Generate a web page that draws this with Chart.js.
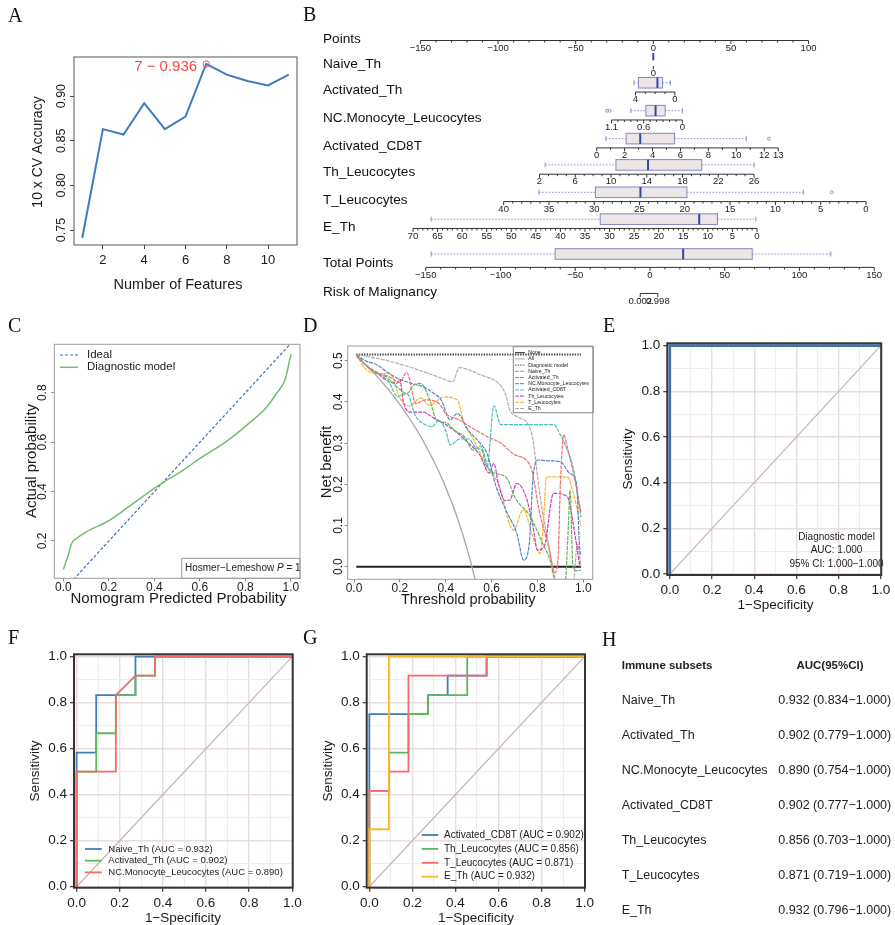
<!DOCTYPE html>
<html>
<head>
<meta charset="utf-8">
<title>Immune subsets diagnostic model</title>
<script src="https://cdn.jsdelivr.net/npm/chart.js@4.4.1/dist/chart.umd.min.js"></script>
<style>
  body { margin: 0; background: #fff; }
  #fig { position: relative; width: 895px; height: 925px; overflow: hidden; background: #fff; }
  #fig canvas { position: absolute; left: 0; top: 0; }
  .tag { position: absolute; font: 20px 'Liberation Serif', 'Times New Roman', serif; color: #111; line-height: 1; }
  .cell { position: absolute; font: 12.5px 'Liberation Sans', Arial, sans-serif; color: #222; white-space: nowrap; transform: translateY(-50%); }
  .hd { font-weight: bold; font-size: 11.5px; }
</style>
</head>
<body>
<div id="fig"></div>
<script>
const W = 895, H = 925;
const SANS = "'Liberation Sans', Arial, Helvetica, sans-serif";
const f = (s, w) => (w ? w + ' ' : '') + s + 'px ' + SANS;
const MINUS = '\u2212';

// ---- A: feature selection
const featureCounts = [1, 2, 3, 4, 5, 6, 7, 8, 9, 10, 11];
const cvAccuracy = [0.741, 0.863, 0.857, 0.892, 0.863, 0.877, 0.936, 0.924, 0.917, 0.912, 0.924];
const aTicksX = [2, 4, 6, 8, 10];
const aTicksY = [0.75, 0.80, 0.85, 0.90];
const bestCount = 7;

// ---- B: nomogram
const nomoNames = ['Points', 'Naive_Th', 'Activated_Th', 'NC.Monocyte_Leucocytes', 'Activated_CD8T',
  'Th_Leucocytes', 'T_Leucocytes', 'E_Th', 'Total Points', 'Risk of Malignancy'];
const nomoAxisVals = [[-150, 100], [0, 0], [4, 0], [1.1, 0], [0, 13], [2, 26], [40, 0], [70, 0], [-150, 150], [0.002, 0.998]];
const nomoAxisPts = [[-150, 100], [0, 0], [-11.5, 13.9], [-26.9, 18.7], [-36.5, 80.5], [-73.3, 64.9], [-96.4, 137.0], [-154.8, 66.8], [-146.6, 142.3], [-8.4, 2.9]];
const nomoTickStep = [10, 0, 1, 0.1, 1, 1, 1, 1, 10, 0];
const nomoTickLabels = [[-150, -100, -50, 0, 50, 100], [0], [4, 0], [1.1, 0.6, 0], [0, 2, 4, 6, 8, 10, 12, 13],
  [2, 6, 10, 14, 18, 22, 26], [40, 35, 30, 25, 20, 15, 10, 5, 0],
  [70, 65, 60, 55, 50, 45, 40, 35, 30, 25, 20, 15, 10, 5, 0], [-150, -100, -50, 0, 50, 100, 150], [0.002, 0.998]];
const boxLo = [null, 0, 4.15, 0.80, 0.66, 2.63, 36.1, 66.3, -146.3, null];
const boxQ1 = [null, 0, 3.70, 0.567, 2.11, 10.55, 29.87, 31.9, -63.4, null];
const boxMed = [null, 0, 1.77, 0.416, 3.12, 14.14, 24.9, 11.76, 22.2, null];
const boxQ3 = [null, 0, 1.25, 0.267, 5.58, 20.15, 19.77, 8.04, 68.4, null];
const boxHi = [null, 0, 0.46, 0, 10.71, 26, 6.92, 0.23, 121, null];
const boxOut = [[], [], [], [1.17, 1.13], [12.34], [], [3.79], [], [], []];
const nomoRowPos = [0, 0.95, 1.92, 2.96, 4, 4.98, 6, 7, 8.45, 9.42];

// ---- C: calibration
const calIdealX = [0, 1], calIdealY = [0, 1];
const calModelX = [0, 0.02, 0.037, 0.059, 0.103, 0.205, 0.307, 0.417, 0.527, 0.6, 0.717, 0.805, 0.893, 0.937, 0.974, 0.985, 1.0];
const calModelY = [0.085, 0.14, 0.191, 0.211, 0.238, 0.285, 0.352, 0.424, 0.487, 0.534, 0.603, 0.668, 0.741, 0.798, 0.852, 0.892, 0.955];
const cTicksX = [0, 0.2, 0.4, 0.6, 0.8, 1.0];
const cTicksY = [0.2, 0.4, 0.6, 0.8];

// ---- D: decision curves
const dcaNoneX = [0.01, 0.99], dcaNoneY = [0, 0];
const dcaAllX = [0.01, 0.05, 0.1, 0.15, 0.2, 0.25, 0.3, 0.35, 0.4, 0.45, 0.5, 0.55];
const dcaAllY = [0.51, 0.49, 0.462, 0.43, 0.394, 0.353, 0.307, 0.254, 0.193, 0.12, 0.03, -0.08];
const dcaModelX = [0.01, 0.99], dcaModelY = [0.515, 0.515];
const dcaNaiveX = [0.01, 0.05, 0.1, 0.15, 0.2, 0.23, 0.27, 0.31, 0.37, 0.4, 0.46, 0.5, 0.58, 0.64, 0.7, 0.77, 0.81, 0.85, 0.875, 0.89, 0.9, 0.915, 0.93, 0.96, 0.99];
const dcaNaiveY = [0.515, 0.49, 0.472, 0.462, 0.448, 0.472, 0.396, 0.405, 0.397, 0.372, 0.356, 0.342, 0.316, 0.3, 0.272, 0.243, 0.13, 0.045, -0.015, 0.02, 0.2, 0.32, 0.29, 0.22, 0.13];
const dcaActThX = [0.01, 0.05, 0.1, 0.14, 0.2, 0.23, 0.26, 0.29, 0.33, 0.36, 0.4, 0.44, 0.48, 0.52, 0.55, 0.59, 0.63, 0.67, 0.7, 0.77, 0.82, 0.855, 0.875, 0.92, 0.935, 0.942, 0.955, 0.97, 0.99];
const dcaActThY = [0.515, 0.49, 0.468, 0.461, 0.43, 0.42, 0.44, 0.445, 0.405, 0.356, 0.35, 0.33, 0.316, 0.283, 0.293, 0.235, 0.225, 0.212, 0.17, 0.121, 0.06, 0.016, -0.03, -0.04, 0.1, 0.186, 0.0, -0.01, -0.008];
const dcaNcMonoX = [0.01, 0.05, 0.1, 0.15, 0.2, 0.25, 0.3, 0.35, 0.38, 0.42, 0.45, 0.5, 0.55, 0.58, 0.62, 0.67, 0.71, 0.74, 0.765, 0.78, 0.8, 0.85, 0.9, 0.94, 0.97, 0.985, 0.99];
const dcaNcMonoY = [0.515, 0.5, 0.49, 0.47, 0.455, 0.445, 0.437, 0.42, 0.405, 0.356, 0.372, 0.33, 0.3, 0.275, 0.194, 0.129, 0.081, 0.016, 0.06, 0.21, 0.259, 0.257, 0.255, 0.227, 0.202, 0.04, 0.03];
const dcaCd8X = [0.01, 0.05, 0.1, 0.15, 0.19, 0.23, 0.27, 0.31, 0.34, 0.37, 0.4, 0.42, 0.46, 0.5, 0.53, 0.56, 0.58, 0.61, 0.64, 0.7, 0.8, 0.87, 0.9, 0.93, 0.96, 0.99];
const dcaCd8Y = [0.515, 0.49, 0.47, 0.45, 0.413, 0.42, 0.364, 0.345, 0.34, 0.356, 0.33, 0.295, 0.31, 0.31, 0.29, 0.28, 0.24, 0.39, 0.345, 0.345, 0.345, 0.345, 0.32, 0.283, 0.23, 0.12];
const dcaThLeuX = [0.01, 0.05, 0.1, 0.15, 0.186, 0.2, 0.215, 0.25, 0.3, 0.35, 0.4, 0.45, 0.5, 0.55, 0.59, 0.61, 0.63, 0.66, 0.68, 0.71, 0.75, 0.78, 0.8, 0.83, 0.87, 0.93, 0.96, 0.985];
const dcaThLeuY = [0.515, 0.49, 0.47, 0.45, 0.445, 0.455, 0.4, 0.375, 0.375, 0.36, 0.345, 0.325, 0.3, 0.27, 0.227, 0.251, 0.2, 0.16, 0.162, 0.202, 0.17, 0.1, 0.04, 0.05, 0.178, 0.17, 0.09, 0.0];
const dcaTLeuX = [0.01, 0.05, 0.1, 0.157, 0.2, 0.24, 0.29, 0.33, 0.39, 0.45, 0.48, 0.52, 0.58, 0.63, 0.695, 0.738, 0.78, 0.811, 0.825, 0.84, 0.87, 0.93, 0.96, 0.99];
const dcaTLeuY = [0.515, 0.48, 0.469, 0.469, 0.409, 0.39, 0.409, 0.392, 0.412, 0.405, 0.348, 0.31, 0.243, 0.2, 0.089, 0.138, 0.073, 0.032, 0.1, 0.218, 0.218, 0.218, 0.17, 0.097];
const dcaEThX = [0.01, 0.1, 0.2, 0.3, 0.38, 0.43, 0.46, 0.55, 0.63, 0.66, 0.68, 0.72, 0.76, 0.78, 0.8, 0.82, 0.85, 0.87, 0.9, 0.95, 0.975, 0.99];
const dcaEThY = [0.515, 0.506, 0.492, 0.474, 0.458, 0.449, 0.483, 0.466, 0.445, 0.42, 0.38, 0.362, 0.345, 0.31, 0.22, 0.14, 0.05, -0.01, -0.08, -0.08, 0.055, 0.0];
const dTicksX = [0, 0.2, 0.4, 0.6, 0.8, 1.0];
const dTicksY = [0, 0.1, 0.2, 0.3, 0.4, 0.5];

// ---- E/F/G: ROC
const rocTicks = [0, 0.1, 0.2, 0.3, 0.4, 0.5, 0.6, 0.7, 0.8, 0.9, 1.0];
const modelFpr = [0, 0, 1], modelTpr = [0, 1, 1];
const naiveFpr = [0, 0, 0.091, 0.091, 0.273, 0.273, 1], naiveTpr = [0, 0.583, 0.583, 0.833, 0.833, 1, 1];
const actThFpr = [0, 0, 0.091, 0.091, 0.182, 0.182, 0.273, 0.273, 0.364, 0.364, 1];
const actThTpr = [0, 0.5, 0.5, 0.667, 0.667, 0.833, 0.833, 0.917, 0.917, 1, 1];
const ncMonoFpr = [0, 0, 0.182, 0.182, 0.273, 0.364, 0.364, 1], ncMonoTpr = [0, 0.5, 0.5, 0.833, 0.917, 0.917, 1, 1];
const cd8Fpr = [0, 0, 0.273, 0.273, 0.364, 0.364, 0.545, 0.545, 1], cd8Tpr = [0, 0.75, 0.75, 0.833, 0.833, 0.917, 0.917, 1, 1];
const thLeuFpr = [0, 0, 0.091, 0.091, 0.182, 0.182, 0.273, 0.273, 0.455, 0.455, 1];
const thLeuTpr = [0, 0.417, 0.417, 0.583, 0.583, 0.75, 0.75, 0.833, 0.833, 1, 1];
const tLeuFpr = [0, 0, 0.091, 0.091, 0.182, 0.182, 0.545, 0.545, 1], tLeuTpr = [0, 0.417, 0.417, 0.5, 0.5, 0.917, 0.917, 1, 1];
const eThFpr = [0, 0, 0.091, 0.091, 1], eThTpr = [0, 0.25, 0.25, 1, 1];

// ---- H: table
const subsets = ['Naive_Th', 'Activated_Th', 'NC.Monocyte_Leucocytes', 'Activated_CD8T', 'Th_Leucocytes', 'T_Leucocytes', 'E_Th'];
const aucPoint = [0.932, 0.902, 0.890, 0.902, 0.856, 0.871, 0.932];
const aucLower = [0.834, 0.779, 0.754, 0.777, 0.703, 0.719, 0.796];
const aucUpper = [1.000, 1.000, 1.000, 1.000, 1.000, 1.000, 1.000];

const fig = document.getElementById('fig');
const pts = (xs, ys) => xs.map((x, i) => ({ x, y: ys[i] }));

function cv(id) {
  const c = document.createElement('canvas');
  c.id = id; c.width = W; c.height = H;
  c.style.width = W + 'px'; c.style.height = H + 'px';
  fig.appendChild(c);
  return c;
}

function base(l, t, r, b) {
  return {
    responsive: false, animation: false, devicePixelRatio: 1, events: [],
    layout: { padding: { left: l - 40, top: t, right: W - r, bottom: H - b - 30 } },
    plugins: { legend: { display: false }, tooltip: { enabled: false } },
  };
}

function lin(min, max, ticks, o = {}) {
  return {
    type: 'linear', min, max,
    afterBuildTicks: s => { s.ticks = ticks.map(v => ({ value: v })); },
    afterFit: s => { if (s.isHorizontal()) s.height = 30; else s.width = 40; },
    border: { display: false },
    grid: Object.assign({ drawOnChartArea: false, tickLength: o.tl || 4, tickColor: o.tc || '#444', tickWidth: 1 }, o.grid || {}),
    ticks: {
      display: !o.hide, autoSkip: false, maxRotation: 0, padding: o.pad == null ? 2 : o.pad, color: '#1a1a1a',
      font: { family: SANS, size: o.size || 12, lineHeight: 1 },
      callback: o.fmt || (v => String(v)),
    },
  };
}

function line(label, xs, ys, color, width, dash, order, smooth) {
  return {
    label, data: pts(xs, ys), showLine: true, borderColor: color, backgroundColor: color,
    borderWidth: width, borderDash: dash || [], pointRadius: 0, order: order || 0,
    cubicInterpolationMode: smooth ? 'monotone' : 'default', tension: 0,
  };
}

function drawText(c, t) {
  c.save();
  c.font = t.f; c.fillStyle = t.c || '#1a1a1a'; c.textAlign = t.al || 'center'; c.textBaseline = 'middle';
  c.translate(t.x, t.y);
  if (t.rot) c.rotate(t.rot);
  c.fillText(t.s, 0, 0);
  c.restore();
}

function drawLegend(chart, c, L) {
  const items = chart.data.datasets.filter(d => d.label);
  if (L.box) { c.strokeStyle = L.boxColor; c.lineWidth = 1; c.setLineDash([]); c.strokeRect(...L.box); }
  items.forEach((d, i) => {
    const y = L.y + i * L.dy;
    c.strokeStyle = d.borderColor; c.lineWidth = L.lw || d.borderWidth;
    c.setLineDash(d.borderDash || []);
    c.beginPath(); c.moveTo(L.x, y); c.lineTo(L.x + L.len, y); c.stroke();
    c.setLineDash([]);
    c.font = L.font; c.fillStyle = '#222'; c.textAlign = 'left'; c.textBaseline = 'middle';
    c.fillText(d.label, L.x + L.len + L.gap, y);
  });
}

function deco(cfg) {
  return {
    id: 'deco',
    afterDraw(chart) {
      const c = chart.ctx, a = chart.chartArea;
      c.save();
      if (cfg.rotY) {
        const s = chart.scales.y;
        c.font = cfg.rotY.font; c.fillStyle = '#1a1a1a'; c.textAlign = 'center'; c.textBaseline = 'middle';
        s.ticks.forEach(t => {
          c.save();
          c.translate(a.left - cfg.rotY.dx, s.getPixelForValue(t.value));
          c.rotate(-Math.PI / 2);
          c.fillText(cfg.rotY.fmt(t.value), 0, 0);
          c.restore();
        });
      }
      (cfg.texts || []).forEach(t => drawText(c, t));
      if (cfg.legend) drawLegend(chart, c, cfg.legend);
      if (cfg.extra) cfg.extra(chart, c);
      if (cfg.frame) {
        c.setLineDash([]); c.strokeStyle = cfg.frame[0]; c.lineWidth = cfg.frame[1];
        c.strokeRect(a.left, a.top, a.width, a.height);
      }
      c.restore();
    },
  };
}

// ---------------- A ----------------
new Chart(cv('cA'), {
  type: 'scatter',
  data: {
    datasets: [
      line('', featureCounts, cvAccuracy, '#3E7CC0', 2, [], 1),
      { data: [{ x: bestCount, y: cvAccuracy[bestCount - 1] }], pointRadius: 3.2, borderColor: '#F25555',
        backgroundColor: 'rgba(0,0,0,0)', borderWidth: 1, order: 0 },
    ],
  },
  options: Object.assign(base(74, 57, 297, 245), {
    scales: {
      x: lin(0.6, 11.4, aTicksX, { size: 13, pad: 5 }),
      y: lin(0.7332, 0.9438, aTicksY, { hide: true }),
    },
  }),
  plugins: [deco({
    frame: ['#555', 1],
    rotY: { dx: 12.5, font: f(12.5), fmt: v => v.toFixed(2) },
    texts: [
      { s: 'Number of Features', x: 178, y: 285, f: f(14.5) },
      { s: '10 x CV Accuracy', x: 38.3, y: 152, f: f(14), rot: -Math.PI / 2 },
    ],
    extra: (chart, c) => {
      const x = chart.scales.x.getPixelForValue(bestCount), y = chart.scales.y.getPixelForValue(cvAccuracy[bestCount - 1]);
      c.font = f(15); c.fillStyle = '#F04848'; c.textAlign = 'right'; c.textBaseline = 'middle';
      c.fillText(bestCount + ' ' + MINUS + ' ' + cvAccuracy[bestCount - 1].toFixed(3), x - 9, y + 3);
    },
  })],
});

// ---------------- B ----------------
function toPoints(i, v) {
  const [v0, v1] = nomoAxisVals[i], [p0, p1] = nomoAxisPts[i];
  return v0 === v1 ? p0 : p0 + (v - v0) * (p1 - p0) / (v1 - v0);
}
const nomoPlugin = {
  id: 'nomo',
  afterDraw(chart) {
    const c = chart.ctx, xs = chart.scales.x, ys = chart.scales.y, a = chart.chartArea;
    const X = (i, v) => xs.getPixelForValue(toPoints(i, v));
    c.save();
    nomoNames.forEach((name, i) => {
      const yl = ys.getPixelForValue(nomoRowPos[i]);
      c.font = f(13.6); c.fillStyle = '#111'; c.textAlign = 'left'; c.textBaseline = 'middle';
      c.fillText(name, a.left + 23, yl - (i === 8 ? 4.5 : 1.5));

      const [v0, v1] = nomoAxisVals[i];
      c.strokeStyle = '#333'; c.lineWidth = 1; c.setLineDash([]);
      if (v0 !== v1) { c.beginPath(); c.moveTo(X(i, v0), yl); c.lineTo(X(i, v1), yl); c.stroke(); }
      const labs = nomoTickLabels[i], st = nomoTickStep[i];
      let ticks = labs;
      if (st) {
        ticks = [];
        const lo = Math.min(v0, v1), hi = Math.max(v0, v1);
        for (let k = 0; k <= Math.round((hi - lo) / st); k++) ticks.push(lo + k * st);
      }
      ticks.forEach(v => {
        const major = labs.some(l => Math.abs(l - v) < 1e-9);
        const x = X(i, v);
        c.beginPath(); c.moveTo(x, yl); c.lineTo(x, yl + (major ? 3.5 : 2)); c.stroke();
      });
      c.font = f(9.5); c.fillStyle = '#1a1a1a'; c.textAlign = 'center';
      labs.forEach(v => c.fillText(String(v).replace('-', MINUS), X(i, v), yl + 7.5));

      if (boxLo[i] === null) return;
      const cy = yl - (i === 8 ? 13.4 : 9.3);
      const flat = boxQ1[i] === boxQ3[i];
      const hh = flat ? 3.6 : 5.3;
      const xLo = X(i, boxLo[i]), xQ1 = X(i, boxQ1[i]), xMed = X(i, boxMed[i]), xQ3 = X(i, boxQ3[i]), xHi = X(i, boxHi[i]);
      c.strokeStyle = '#8E8ED6'; c.lineWidth = 1;
      c.setLineDash([1.6, 1.6]);
      c.beginPath(); c.moveTo(xLo, cy); c.lineTo(xQ1, cy); c.moveTo(xQ3, cy); c.lineTo(xHi, cy); c.stroke();
      c.setLineDash([]);
      if (!flat) {
        c.beginPath(); c.moveTo(xLo, cy - 2.5); c.lineTo(xLo, cy + 2.5); c.moveTo(xHi, cy - 2.5); c.lineTo(xHi, cy + 2.5); c.stroke();
        c.fillStyle = '#ECE6E6';
        c.fillRect(Math.min(xQ1, xQ3), cy - hh, Math.abs(xQ3 - xQ1), 2 * hh);
        c.strokeStyle = '#8585C8';
        c.strokeRect(Math.min(xQ1, xQ3), cy - hh, Math.abs(xQ3 - xQ1), 2 * hh);
      }
      c.strokeStyle = '#3445A8'; c.lineWidth = 2;
      c.beginPath(); c.moveTo(xMed, cy - hh); c.lineTo(xMed, cy + hh); c.stroke();
      c.strokeStyle = '#8E8ED6'; c.lineWidth = 1;
      boxOut[i].forEach(o => { c.beginPath(); c.arc(X(i, o), cy, 1.5, 0, Math.PI * 2); c.stroke(); });
    });
    c.restore();
  },
};
new Chart(cv('cB'), {
  type: 'scatter',
  data: { datasets: [] },
  options: {
    responsive: false, animation: false, devicePixelRatio: 1, events: [],
    layout: { padding: { left: 300, top: 25, right: 0, bottom: 615 } },
    plugins: { legend: { display: false }, tooltip: { enabled: false } },
    scales: {
      x: { type: 'linear', display: false, min: -227.58, max: 155.69 },
      y: { type: 'linear', display: false, min: -0.5773, max: 10.0372, reverse: true },
    },
  },
  plugins: [nomoPlugin],
});

// ---------------- C ----------------
new Chart(cv('cC'), {
  type: 'scatter',
  data: {
    datasets: [
      line('Ideal', calIdealX, calIdealY, '#3C6FB4', 1.2, [3, 2], 1),
      line('Diagnostic model', calModelX, calModelY, '#72BE72', 1.5, [], 0, true),
    ],
  },
  options: Object.assign(base(54.3, 344.3, 300, 578.3), {
    scales: {
      x: lin(-0.04, 1.04, cTicksX, { size: 12, pad: 0, tl: 3, tc: '#888', fmt: v => v.toFixed(1) }),
      y: lin(0.049, 0.996, cTicksY, { hide: true, tl: 3, tc: '#888' }),
    },
  }),
  plugins: [deco({
    frame: ['#A39C96', 1],
    rotY: { dx: 11.6, font: f(12), fmt: v => v.toFixed(1) },
    texts: [
      { s: 'Nomogram Predicted Probability', x: 178.5, y: 599, f: f(15) },
      { s: 'Actual probability', x: 32, y: 461, f: f(15), rot: -Math.PI / 2 },
    ],
    legend: { x: 60, y: 355, dy: 12.3, len: 18, gap: 9, font: f(11.5) },
    extra: (chart, c) => {
      c.strokeStyle = '#999'; c.lineWidth = 1; c.strokeRect(181.7, 558.3, chart.chartArea.right - 181.7, 20);
      c.fillStyle = '#222'; c.textAlign = 'left'; c.textBaseline = 'middle';
      let x = 185;
      c.font = f(10); const s1 = 'Hosmer' + MINUS + 'Lemeshow '; c.fillText(s1, x, 568.5); x += c.measureText(s1).width;
      c.font = f(10, 'italic'); c.fillText('P', x, 568.5); x += c.measureText('P').width;
      c.font = f(10); c.fillText(' = 1', x, 568.5);
    },
  })],
});

// ---------------- D ----------------
const dDash = [4, 1];
new Chart(cv('cD'), {
  type: 'scatter',
  data: {
    datasets: [
      line('None', dcaNoneX, dcaNoneY, '#222', 2, [], 10),
      line('All', dcaAllX, dcaAllY, '#ADA29E', 1.3, [], 9, true),
      line('Diagnostic model', dcaModelX, dcaModelY, '#444', 2, [1.4, 1.2], 8),
      line('Naive_Th', dcaNaiveX, dcaNaiveY, '#F26B6B', 1.2, dDash, 1, true),
      line('Activated_Th', dcaActThX, dcaActThY, '#5CB85C', 1.2, dDash, 2, true),
      line('NC.Monocyte_Leucocytes', dcaNcMonoX, dcaNcMonoY, '#4A86C8', 1.2, dDash, 3, true),
      line('Activated_CD8T', dcaCd8X, dcaCd8Y, '#3EC4BE', 1.2, dDash, 4, true),
      line('Th_Leucocytes', dcaThLeuX, dcaThLeuY, '#C93DB0', 1.2, dDash, 5, true),
      line('T_Leucocytes', dcaTLeuX, dcaTLeuY, '#FFB22E', 1.2, dDash, 6, true),
      line('E_Th', dcaEThX, dcaEThY, '#B5AAA5', 1.2, dDash, 7, true),
    ],
  },
  options: Object.assign(base(347.7, 346, 592.7, 579.3), {
    scales: {
      x: lin(-0.0275, 1.041, dTicksX, { size: 12, pad: 0, tl: 3, tc: '#888', fmt: v => v.toFixed(1) }),
      y: lin(-0.0306, 0.5357, dTicksY, { hide: true, tl: 3, tc: '#888' }),
    },
  }),
  plugins: [deco({
    frame: ['#A39C96', 1],
    rotY: { dx: 9.4, font: f(12), fmt: v => v.toFixed(1) },
    texts: [
      { s: 'Threshold probability', x: 468.3, y: 600, f: f(14.5) },
      { s: 'Net benefit', x: 326.7, y: 462, f: f(15), rot: -Math.PI / 2 },
    ],
    legend: { x: 515, y: 352.7, dy: 6.2, len: 10, gap: 3.3, font: f(5.2), lw: 1, box: [513.3, 346.7, 80, 66], boxColor: '#888' },
  })],
});

// ---------------- ROC helpers ----------------
const major = v => Math.abs(Math.round(v * 10)) % 2 === 0;
function rocAxis(min, max, pad) {
  const s = lin(min, max, rocTicks, { size: 13.5, pad, fmt: v => (major(v) ? v.toFixed(1) : '') });
  s.grid = {
    drawOnChartArea: true, tickLength: 4, tickWidth: 1.2,
    color: ctx => (ctx.tick && major(ctx.tick.value) ? '#E8DCDC' : '#F2EBEB'),
    lineWidth: ctx => (ctx.tick && major(ctx.tick.value) ? 1.4 : 1),
    tickColor: ctx => (ctx.tick && major(ctx.tick.value) ? '#333' : 'rgba(0,0,0,0)'),
  };
  return s;
}
const diagColor = '#C2B6B4';
function rocScales() {
  return { x: rocAxis(-0.012, 1.002, 4.8), y: rocAxis(-0.004, 1.01, 3) };
}

// ---------------- E ----------------
new Chart(cv('cE'), {
  type: 'scatter',
  data: {
    datasets: [
      line('', [0, 1], [0, 1], diagColor, 1.2, [], 2),
      line('', modelFpr, modelTpr, '#3A72AE', 2.6, [], 1),
    ],
  },
  options: Object.assign(base(667.3, 343.3, 885, 575), { scales: rocScales() }),
  plugins: [deco({
    frame: ['#3A3232', 2],
    texts: [
      { s: 'Sensitivity', x: 628.3, y: 459, f: f(13.5), rot: -Math.PI / 2 },
      { s: '1' + MINUS + 'Specificity', x: 775.5, y: 605, f: f(13.5) },
      { s: 'Diagnostic model', x: 836.5, y: 537.3, f: f(10) },
      { s: 'AUC: 1.000', x: 836.5, y: 550.5, f: f(10) },
      { s: '95% CI: 1.000' + MINUS + '1.000', x: 836.5, y: 564, f: f(10) },
    ],
  })],
});

// ---------------- F ----------------
const fCurves = [[naiveFpr, naiveTpr, '#3D7DBA'], [actThFpr, actThTpr, '#5BBA5B'], [ncMonoFpr, ncMonoTpr, '#F36A6A']];
new Chart(cv('cF'), {
  type: 'scatter',
  data: {
    datasets: [line('', [0, 1], [0, 1], diagColor, 1.2, [], 9)].concat(
      fCurves.map((cu, i) => line(subsets[i] + ' (AUC = ' + aucPoint[i].toFixed(3) + ')', cu[0], cu[1], cu[2], 1.8, [], 5 - i))),
  },
  options: Object.assign(base(74, 654.3, 292.7, 887.7), { scales: rocScales() }),
  plugins: [deco({
    frame: ['#3A3232', 2],
    texts: [
      { s: 'Sensitivity', x: 35, y: 771, f: f(13.5), rot: -Math.PI / 2 },
      { s: '1' + MINUS + 'Specificity', x: 183, y: 918.3, f: f(13.5) },
    ],
    legend: { x: 85, y: 849, dy: 11.7, len: 16.7, gap: 6.6, font: f(9.5) },
  })],
});

// ---------------- G ----------------
const gCurves = [[cd8Fpr, cd8Tpr, '#3D7DBA'], [thLeuFpr, thLeuTpr, '#5BBA5B'], [tLeuFpr, tLeuTpr, '#F36A6A'], [eThFpr, eThTpr, '#F7B924']];
new Chart(cv('cG'), {
  type: 'scatter',
  data: {
    datasets: [line('', [0, 1], [0, 1], diagColor, 1.2, [], 9)].concat(
      gCurves.map((cu, i) => line(subsets[i + 3] + ' (AUC = ' + aucPoint[i + 3].toFixed(3) + ')', cu[0], cu[1], cu[2], 1.8, [], 5 - i))),
  },
  options: Object.assign(base(366.7, 654.3, 585, 887.7), { scales: rocScales() }),
  plugins: [deco({
    frame: ['#3A3232', 2],
    texts: [
      { s: 'Sensitivity', x: 328.3, y: 771, f: f(13.5), rot: -Math.PI / 2 },
      { s: '1' + MINUS + 'Specificity', x: 476, y: 918.3, f: f(13.5) },
    ],
    legend: { x: 421.7, y: 835, dy: 13.9, len: 16.6, gap: 5.7, font: f(10) },
  })],
});

// ---------------- letters and table ----------------
[['A', 8, 5], ['B', 303, 3.5], ['C', 8, 315], ['D', 303, 315], ['E', 603, 315], ['F', 8, 627], ['G', 303, 627], ['H', 602, 628.5]]
  .forEach(([t, x, y]) => {
    const d = document.createElement('div');
    d.className = 'tag'; d.textContent = t; d.style.left = x + 'px'; d.style.top = y + 'px';
    fig.appendChild(d);
  });
function cell(text, x, y, cls) {
  const d = document.createElement('div');
  d.className = 'cell' + (cls ? ' ' + cls : ''); d.textContent = text;
  d.style.left = x + 'px'; d.style.top = y + 'px';
  fig.appendChild(d);
  return d;
}
cell('Immune subsets', 621.7, 665, 'hd');
const hdr = cell('AUC(95%CI)', 830, 665, 'hd');
hdr.style.transform = 'translate(-50%, -50%)';
subsets.forEach((s, i) => {
  const y = 700 + i * 35;
  cell(s, 621.7, y);
  cell(aucPoint[i].toFixed(3) + ' (' + aucLower[i].toFixed(3) + MINUS + aucUpper[i].toFixed(3) + ')', 778.3, y);
});
</script>
</body>
</html>
